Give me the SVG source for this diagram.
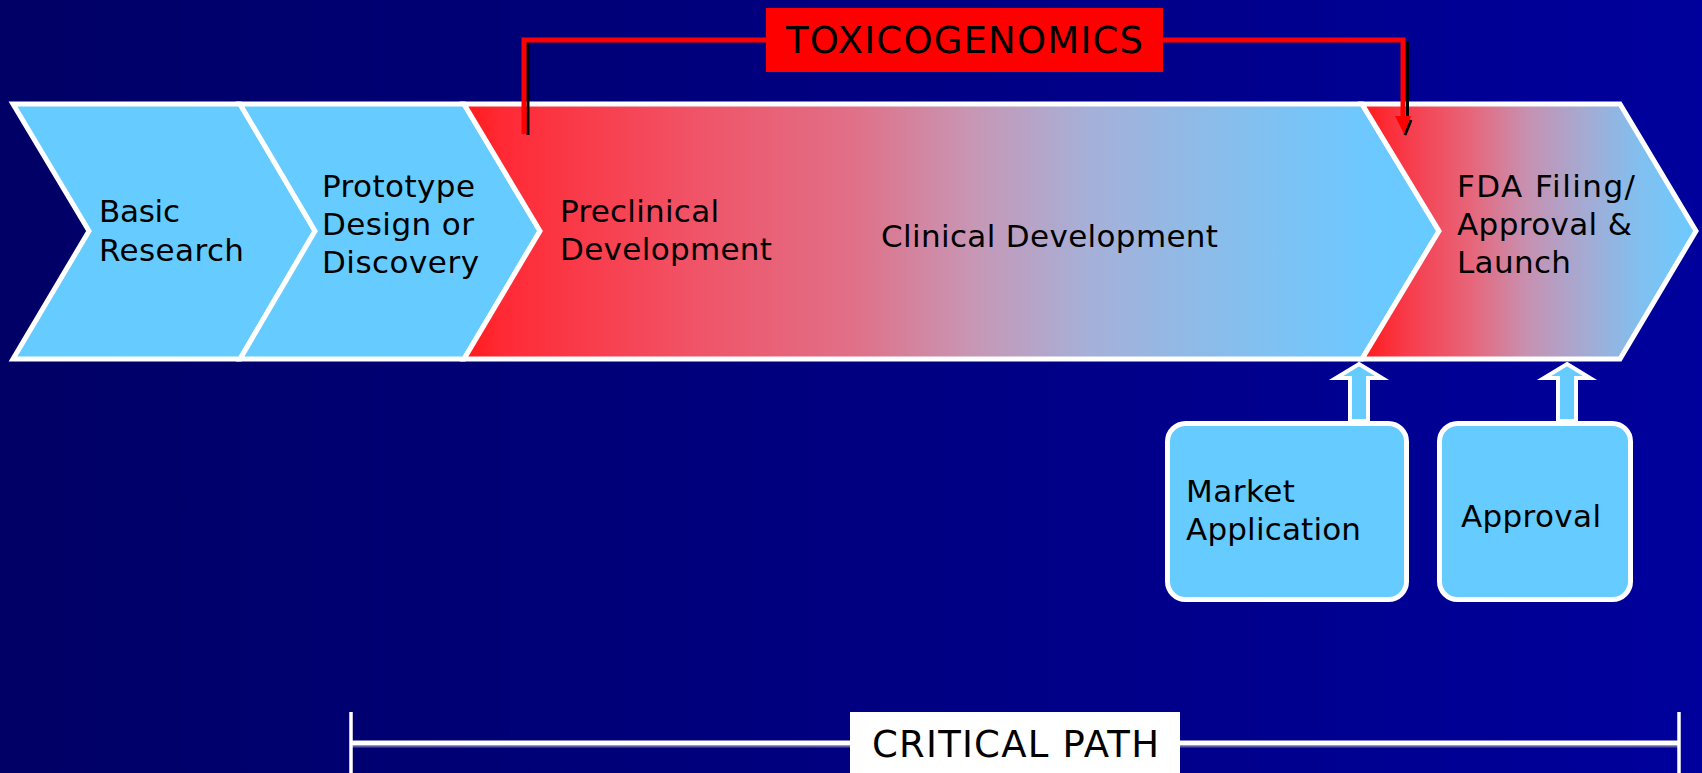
<svg xmlns="http://www.w3.org/2000/svg" width="1702" height="773" viewBox="0 0 1702 773">
<defs>
<linearGradient id="bg" x1="0" y1="0" x2="1" y2="0">
<stop offset="0" stop-color="#000066"/>
<stop offset="1" stop-color="#00009c"/>
</linearGradient>
<linearGradient id="g1" x1="0" y1="0" x2="1" y2="0">
<stop offset="0" stop-color="#ff1a1a"/>
<stop offset="0.04" stop-color="#ff2a35"/>
<stop offset="0.24" stop-color="#f05468"/>
<stop offset="0.40" stop-color="#e07088"/>
<stop offset="0.52" stop-color="#c896b4"/>
<stop offset="0.64" stop-color="#a6b0d8"/>
<stop offset="0.81" stop-color="#82c0f0"/>
<stop offset="0.93" stop-color="#6cc8ff"/>
<stop offset="1" stop-color="#66ccff"/>
</linearGradient>
<linearGradient id="g2" x1="0" y1="0" x2="1" y2="0">
<stop offset="0" stop-color="#ff1a1a"/>
<stop offset="0.13" stop-color="#f83a4a"/>
<stop offset="0.32" stop-color="#e86478"/>
<stop offset="0.49" stop-color="#c890b0"/>
<stop offset="0.65" stop-color="#a8a8d0"/>
<stop offset="0.84" stop-color="#80c0f0"/>
<stop offset="1" stop-color="#6ccaff"/>
</linearGradient>
<style>
.chev{stroke:#ffffff;stroke-width:5;stroke-linejoin:miter}
.lb{fill:#66ccff}
.t{font-family:"DejaVu Sans",Verdana,sans-serif;font-size:31px;fill:#000000}
.big{font-family:"DejaVu Sans",Verdana,sans-serif;font-size:37px;fill:#000000}
.box{fill:#66ccff;stroke:#ffffff;stroke-width:5}
.uarr{fill:#66ccff;stroke:#ffffff;stroke-width:4;stroke-linejoin:miter}
.red{fill:none;stroke:#ff0000;stroke-width:5}
.shd{fill:none;stroke:#000000;stroke-width:3}
</style>
</defs>
<rect x="0" y="0" width="1702" height="773" fill="url(#bg)"/>

<g id="basic-research">
<polygon class="chev lb" points="13,104 240,104 315,231 240,359 13,359 89,231"/>
<text class="t" x="99" y="222" textLength="81">Basic</text>
<text class="t" x="99" y="261" textLength="145">Research</text>
</g>

<g id="prototype">
<polygon class="chev lb" points="240,104 464,104 540,231 464,359 240,359 315,231"/>
<text class="t" x="322" y="197" textLength="153">Prototype</text>
<text class="t" x="322" y="235" textLength="152">Design or</text>
<text class="t" x="322" y="273" textLength="157">Discovery</text>
</g>

<g id="clinical">
<polygon class="chev" fill="url(#g1)" points="464,104 1362,104 1439,231 1362,359 464,359 540,231"/>
<text class="t" x="560" y="222" textLength="159">Preclinical</text>
<text class="t" x="560" y="260" textLength="212">Development</text>
<text class="t" x="881" y="247" textLength="337">Clinical Development</text>
</g>

<g id="fda">
<polygon class="chev" fill="url(#g2)" points="1362,104 1620,104 1696,231 1620,359 1362,359 1439,231"/>
<text class="t" x="1457" y="197" textLength="178">FDA Filing/</text>
<text class="t" x="1457" y="235" textLength="175">Approval &amp;</text>
<text class="t" x="1457" y="273" textLength="114">Launch</text>
</g>

<g id="toxicogenomics">
<rect x="766" y="8" width="397" height="64" fill="#ff0000"/>
<text class="big" x="786" y="53" textLength="357">TOXICOGENOMICS</text>
</g>

<g id="market-application">
<rect class="box" x="1167.5" y="423.5" width="239" height="176" rx="18"/>
<text class="t" x="1186" y="502" textLength="109">Market</text>
<text class="t" x="1186" y="540" textLength="175">Application</text>
</g>

<g id="approval">
<rect class="box" x="1439.5" y="423.5" width="191" height="176" rx="18"/>
<text class="t" x="1461" y="527" textLength="140">Approval</text>
</g>

<g id="critical-path">
<line x1="351" y1="746.5" x2="1679" y2="746.5" stroke="#5a5aa8" stroke-width="2"/>
<line x1="351" y1="743" x2="1679" y2="743" stroke="#ffffff" stroke-width="5"/>
<line x1="351" y1="712" x2="351" y2="773" stroke="#ffffff" stroke-width="3.5"/>
<line x1="1679" y1="712" x2="1679" y2="773" stroke="#ffffff" stroke-width="3.5"/>
<rect x="850" y="712" width="330" height="61" fill="#ffffff"/>
<text class="big" x="872" y="757" textLength="287">CRITICAL PATH</text>
</g>

<g id="connectors">
<line class="shd" x1="528" y1="42" x2="528" y2="135"/>
<path class="red" d="M524,134 V40 H766"/>
<line class="shd" x1="1407.5" y1="42" x2="1407.5" y2="119"/>
<line class="shd" x1="1411" y1="120" x2="1405" y2="135"/>
<path class="red" d="M1163,40 H1403 V118"/>
<polygon points="1395,116 1411,116 1404,134" fill="#ff0000"/>
<polygon class="uarr" points="1359,364 1382,378 1368,378 1368,421 1350,421 1350,378 1336,378"/>
<polygon class="uarr" points="1567,364 1590,378 1576,378 1576,421 1558,421 1558,378 1544,378"/>
</g>
</svg>
